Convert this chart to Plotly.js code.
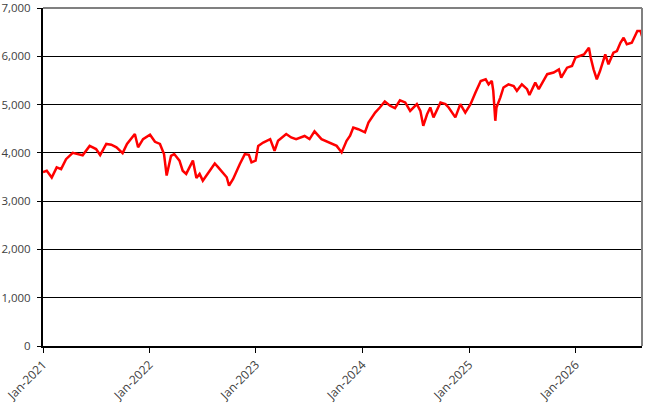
<!DOCTYPE html>
<html>
<head>
<meta charset="utf-8">
<script src="https://cdn.plot.ly/plotly-3.0.1.min.js"></script>
<style>
  html, body { margin: 0; padding: 0; background: #fff; }
  #myDiv { width: 661px; height: 409px; }
</style>
</head>
<body>
<div id="myDiv"></div>
<script>
// values
var dates = [
  "2021-01-01","2021-01-14","2021-01-31","2021-02-17","2021-03-04","2021-03-21","2021-04-13","2021-05-06",
  "2021-05-17","2021-06-10","2021-07-02","2021-07-16","2021-08-06","2021-08-23","2021-09-10","2021-10-01",
  "2021-10-16","2021-11-12","2021-11-23","2021-12-10","2022-01-03","2022-01-20","2022-02-06","2022-02-20",
  "2022-03-01","2022-03-16","2022-03-27","2022-04-14","2022-04-25","2022-05-07","2022-05-30","2022-06-11","2022-06-22",
  "2022-07-03","2022-07-15","2022-08-13","2022-08-25","2022-09-11","2022-09-23","2022-10-01","2022-10-15",
  "2022-11-07","2022-11-24","2022-12-08","2022-12-17","2022-12-31","2023-01-09","2023-01-26","2023-02-19",
  "2023-03-06","2023-03-18","2023-04-15","2023-05-02","2023-05-19","2023-06-17","2023-07-04","2023-07-21",
  "2023-08-14","2023-09-12","2023-10-05","2023-10-22","2023-11-08","2023-11-20","2023-12-01","2023-12-18",
  "2024-01-10","2024-01-22","2024-02-14","2024-03-01","2024-03-18","2024-04-05","2024-04-22","2024-05-09",
  "2024-05-27","2024-06-13","2024-07-06","2024-07-18","2024-07-28","2024-08-10","2024-08-21","2024-09-01",
  "2024-09-25","2024-10-12","2024-10-23","2024-11-15","2024-12-02","2024-12-19","2025-01-06","2025-01-23",
  "2025-02-10","2025-02-27","2025-03-09","2025-03-20","2025-03-25","2025-04-01","2025-04-05","2025-04-18",
  "2025-04-29","2025-05-16","2025-06-03","2025-06-14","2025-07-01","2025-07-19","2025-07-27","2025-08-16",
  "2025-08-28","2025-09-26","2025-10-18","2025-11-05","2025-11-13","2025-12-03","2025-12-20","2026-01-01",
  "2026-01-18","2026-01-30","2026-02-16","2026-02-22","2026-03-04","2026-03-15","2026-03-26","2026-04-13",
  "2026-04-24","2026-05-11","2026-05-23","2026-06-04","2026-06-15","2026-06-26","2026-07-13","2026-08-01",
  "2026-08-12","2026-08-17"
];
var values = [
  3600,3630,3490,3700,3665,3870,4000,3975,
  3950,4145,4080,3955,4185,4170,4115,3995,
  4185,4390,4115,4285,4375,4230,4185,3975,
  3530,3940,3975,3840,3630,3565,3840,3480,3565,
  3425,3530,3780,3700,3565,3495,3320,3460,
  3770,3975,3960,3805,3840,4145,4215,4285,
  4045,4250,4390,4320,4285,4350,4285,4445,
  4285,4215,4145,4010,4250,4355,4525,4490,
  4425,4630,4835,4940,5065,4975,4925,5090,
  5045,4870,5010,4870,4560,4800,4940,4735,
  5045,5010,4940,4735,5010,4835,5010,5250,
  5490,5525,5420,5490,5285,4665,4940,5145,
  5355,5420,5385,5285,5420,5320,5200,5455,
  5320,5630,5665,5730,5560,5765,5800,5975,
  6005,6040,6180,5975,5730,5525,5695,6040,
  5835,6075,6110,6280,6385,6250,6280,6525,
  6525,6420
];
var yTicks = [0, 1000, 2000, 3000, 4000, 5000, 6000, 7000];

var trace1 = {
  x: dates,
  y: values,
  type: 'scatter',
  mode: 'lines',
  line: {color: '#FF0000', width: 2.5},
  hoverinfo: 'x+y'
};

var layout = {
  width: 661,
  height: 409,
  margin: {l: 43, r: 19, t: 8, b: 63},
  paper_bgcolor: '#ffffff',
  plot_bgcolor: '#ffffff',
  showlegend: false,
  font: {family: 'Open Sans, sans-serif', size: 12, color: '#404040'},
  xaxis: {
    type: 'date',
    range: ['2021-01-01', '2026-08-17'],
    tick0: '2021-01-01',
    dtick: 'M12',
    tickformat: '%b-%Y',
    tickangle: -45,
    ticks: 'outside',
    ticklen: 5,
    tickcolor: '#000000',
    showgrid: false,
    showline: true,
    linecolor: '#000000',
    linewidth: 2,
    zeroline: false,
    tickfont: {size: 12, color: '#404040'}
  },
  yaxis: {
    range: [0, 7001],
    tickvals: yTicks,
    tickformat: ',d',
    ticks: 'outside',
    ticklen: 4,
    tickcolor: '#000000',
    ticklabelstandoff: 4,
    ticklabeloverflow: 'allow',
    showgrid: true,
    gridcolor: '#000000',
    gridwidth: 1,
    showline: true,
    linecolor: '#000000',
    linewidth: 2,
    zeroline: false,
    tickfont: {size: 11.5, color: '#404040'}
  },
  shapes: [
    {type: 'line', xref: 'paper', yref: 'paper', x0: 0, x1: 1, y0: 1, y1: 1,
     line: {color: '#808080', width: 2}},
    {type: 'line', xref: 'paper', yref: 'paper', x0: 1, x1: 1, y0: 0, y1: 1,
     line: {color: '#808080', width: 2}}
  ]
};

Plotly.newPlot('myDiv', [trace1], layout, {displayModeBar: false, staticPlot: true});
</script>
</body>
</html>
